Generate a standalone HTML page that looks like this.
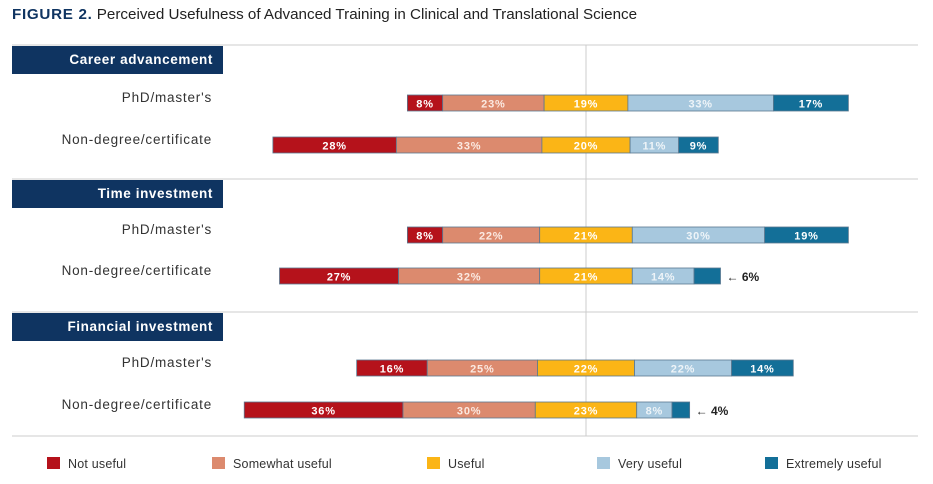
<!DOCTYPE html>
<html><head><meta charset="utf-8"><style>
body{margin:0;background:#fff;width:933px;height:484px;overflow:hidden;font-family:"Liberation Sans",sans-serif}
svg{display:block}
</style></head><body>
<svg id="c" width="933" height="484">
<text x="12" y="19" font-size="15.2" fill="#222"><tspan fill="#0f3461" font-weight="bold" letter-spacing="0.7">FIGURE 2.</tspan> Perceived Usefulness of Advanced Training in Clinical and Translational Science</text>
</svg>
<script>
const groups=["Career advancement","Time investment","Financial investment"];
const rowLabels=["PhD/master's","Non-degree/certificate"];
const categories=["Not useful","Somewhat useful","Useful","Very useful","Extremely useful"];
const notUseful=[8,28,8,27,16,36];
const somewhatUseful=[23,33,22,32,25,30];
const useful=[19,20,21,21,22,23];
const veryUseful=[33,11,30,14,22,8];
const extremelyUseful=[17,9,19,6,14,4];
const colors=["#b5121b","#dc8a6e","#fbb516","#a7c8de","#136f98"];
const textColors=["#fff","#fbe9e1","#fff","#eef4f8","#fff"];
const svg=document.getElementById('c');
const NS="http://www.w3.org/2000/svg";
const cx=586, scale=4.41;
const x=v=>cx+v*scale;
function mk(t,a,p){const e=document.createElementNS(NS,t);for(const k in a)e.setAttribute(k,a[k]);(p||svg).appendChild(e);return e;}
const sepY=[45,179,312];
const barTop=[95,137,227,268,360,402];
sepY.forEach((y,i)=>{
 const l=mk('line',{x1:12,x2:918,y1:y,y2:y,stroke:'#ddd','stroke-width':1.5});
 
 
 const r=mk('rect',{x:12,y:y+1,width:211,height:28,fill:'#0f3461'});
 
 
 const t=mk('text',{x:213,y:y+19,'text-anchor':'end',fill:'#fff','font-size':13.5,'font-weight':'bold','letter-spacing':'0.6'});
 t.textContent=groups[i];
 
 
});
const bl=mk('line',{x1:12,x2:918,y1:436,y2:436,stroke:'#ddd','stroke-width':1.5});


const cl=mk('line',{x1:cx,x2:cx,y1:45,y2:436,stroke:'#ccc','stroke-width':1});


const series=[notUseful,somewhatUseful,useful,veryUseful,extremelyUseful];
barTop.forEach((top,r)=>{
 const lb=mk('text',{x:212,y:top+7,'text-anchor':'end',fill:'#333','font-size':13.5,'letter-spacing':'0.8'});
 lb.textContent=rowLabels[r%2];
 
 
 let start=-(notUseful[r]+somewhatUseful[r]+useful[r]/2);
 series.forEach((s,k)=>{
  const v=s[r];
  const rc=mk('rect',{x:x(start),y:top,width:v*scale,height:16,fill:colors[k],stroke:'#5a7890','stroke-width':0.8});
  
  
  if(v>=7){
   const t=mk('text',{x:x(start+v/2),y:top+12.5,'text-anchor':'middle',fill:textColors[k],'font-size':11,'font-weight':'bold','letter-spacing':'0.8'});
   t.textContent=v+'%';
   
   
  } else {
   const t=mk('text',{x:x(start+v)+6,y:top+13,fill:'#222','font-size':12,'font-weight':'bold'});
   t.textContent='\u2190 '+v+'%';
   
   
  }
  start+=v;
 });
});
const legX=[47,212,427,597,765];
categories.forEach((c,i)=>{
 const r=mk('rect',{x:legX[i],y:457,width:13,height:12,fill:colors[i]});
 
 
 const t=mk('text',{x:legX[i]+21,y:468,fill:'#333','font-size':12.5,'letter-spacing':'0.2'});
 t.textContent=c;
 
 
});
</script>
</body></html>
